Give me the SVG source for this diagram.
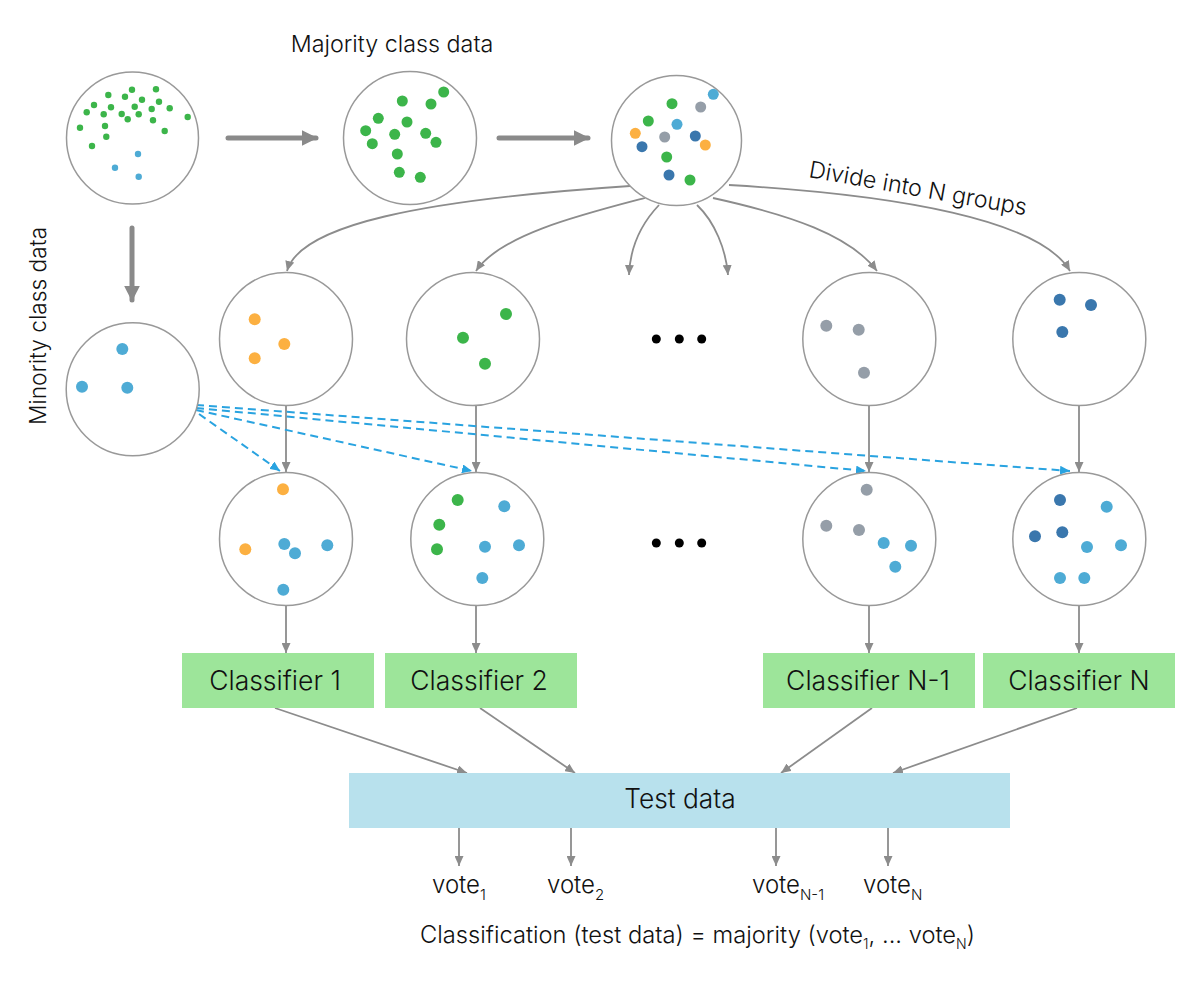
<svg xmlns="http://www.w3.org/2000/svg" width="1200" height="988" viewBox="0 0 1200 988">
<defs>
<style>
.c{fill:#fff;stroke:#999;stroke-width:1.5}
.g{fill:#3cb54a}.lb{fill:#4eabd5}.db{fill:#3a77ad}.gr{fill:#959ea8}.or{fill:#fcb041}
.t{font-family:Inter,"Liberation Sans",sans-serif;font-weight:300;fill:#111}
.ln{fill:none;stroke:#8c8c8c;stroke-width:1.8}
.thick{fill:none;stroke:#8a8a8a;stroke-width:5;stroke-linecap:round}
.dash{fill:none;stroke:#29a3e0;stroke-width:2;stroke-dasharray:8 5}
.cls{fill:#9de59a}
</style>
<marker id="ah" viewBox="0 0 10 9" refX="10" refY="4.5" markerWidth="10" markerHeight="9" markerUnits="userSpaceOnUse" orient="auto"><path d="M0,0 L10,4.5 L0,9 z" fill="#8c8c8c"/></marker>
<marker id="ahb" viewBox="0 0 10 9" refX="10" refY="4.5" markerWidth="10" markerHeight="9" markerUnits="userSpaceOnUse" orient="auto"><path d="M0,0 L10,4.5 L0,9 z" fill="#29a3e0"/></marker>
<marker id="aht" viewBox="0 0 10 10" refX="9" refY="5" markerWidth="3.2" markerHeight="3.2" orient="auto"><path d="M0,0 L10,5 L0,10 z" fill="#8a8a8a"/></marker>
</defs>
<rect width="1200" height="988" fill="#fff"/>

<text class="t" x="392" y="52" font-size="23.3" text-anchor="middle">Majority class data</text>
<text class="t" transform="translate(46,326) rotate(-90)" font-size="22.7" text-anchor="middle">Minority class data</text>
<text class="t" transform="translate(808,177) rotate(10)" font-size="23.3">Divide into N groups</text>

<g id="connectors">
<line class="thick" x1="228" y1="138" x2="316" y2="138" marker-end="url(#aht)"/>
<line class="thick" x1="499" y1="138" x2="588" y2="138" marker-end="url(#aht)"/>
<line class="thick" x1="132" y1="228" x2="132" y2="300" marker-end="url(#aht)"/>
<path class="ln" d="M630,186 C420,200 300,225 287,271" marker-end="url(#ah)"/>
<path class="ln" d="M645,198 C580,215 500,235 476,271" marker-end="url(#ah)"/>
<path class="ln" d="M659,205 C640,225 630,250 629,275" marker-end="url(#ah)"/>
<path class="ln" d="M697,205 C715,222 726,250 728,275" marker-end="url(#ah)"/>
<path class="ln" d="M713,198 C790,215 850,235 877,271" marker-end="url(#ah)"/>
<path class="ln" d="M729,185 C900,195 1040,220 1070,271" marker-end="url(#ah)"/>
<line class="ln" x1="286" y1="406" x2="286" y2="472" marker-end="url(#ah)"/>
<line class="ln" x1="476" y1="406" x2="476" y2="472" marker-end="url(#ah)"/>
<line class="ln" x1="869" y1="406" x2="869" y2="472" marker-end="url(#ah)"/>
<line class="ln" x1="1079" y1="406" x2="1079" y2="472" marker-end="url(#ah)"/>
<line class="ln" x1="286" y1="606" x2="286" y2="653" marker-end="url(#ah)"/>
<line class="ln" x1="476" y1="606" x2="476" y2="653" marker-end="url(#ah)"/>
<line class="ln" x1="869" y1="606" x2="869" y2="653" marker-end="url(#ah)"/>
<line class="ln" x1="1079" y1="606" x2="1079" y2="653" marker-end="url(#ah)"/>
<line class="dash" x1="199" y1="414" x2="280" y2="471" marker-end="url(#ahb)"/>
<line class="dash" x1="196" y1="410" x2="472" y2="471" marker-end="url(#ahb)"/>
<line class="dash" x1="196" y1="408" x2="866" y2="471" marker-end="url(#ahb)"/>
<line class="dash" x1="196" y1="405" x2="1070" y2="471" marker-end="url(#ahb)"/>
<line class="ln" x1="275" y1="708" x2="467" y2="773" marker-end="url(#ah)"/>
<line class="ln" x1="480" y1="708" x2="575" y2="773" marker-end="url(#ah)"/>
<line class="ln" x1="872" y1="708" x2="781" y2="773" marker-end="url(#ah)"/>
<line class="ln" x1="1077" y1="708" x2="893" y2="773" marker-end="url(#ah)"/>
<line class="ln" x1="459" y1="828" x2="459" y2="866" marker-end="url(#ah)"/>
<line class="ln" x1="571" y1="828" x2="571" y2="866" marker-end="url(#ah)"/>
<line class="ln" x1="776" y1="828" x2="776" y2="866" marker-end="url(#ah)"/>
<line class="ln" x1="888" y1="828" x2="888" y2="866" marker-end="url(#ah)"/>
</g>

<g id="all-data">
<circle class="c" cx="132.5" cy="138" r="66"/>
<g class="g">
<circle cx="108.3" cy="95" r="3.2"/><circle cx="125" cy="96.7" r="3.2"/><circle cx="132" cy="89.7" r="3.2"/><circle cx="156" cy="89.3" r="3.2"/>
<circle cx="94" cy="105" r="3.2"/><circle cx="111" cy="107.3" r="3.2"/><circle cx="134.7" cy="106.7" r="3.2"/><circle cx="142" cy="99.7" r="3.2"/>
<circle cx="159" cy="101.7" r="3.2"/><circle cx="151.7" cy="109" r="3.2"/><circle cx="169.7" cy="108.3" r="3.2"/><circle cx="86.7" cy="112.3" r="3.2"/>
<circle cx="103.7" cy="114.3" r="3.2"/><circle cx="121.7" cy="114" r="3.2"/><circle cx="138.7" cy="114.3" r="3.2"/><circle cx="127.7" cy="119.3" r="3.2"/>
<circle cx="153" cy="120.3" r="3.2"/><circle cx="187.7" cy="117" r="3.2"/><circle cx="80" cy="127.7" r="3.2"/><circle cx="105" cy="126" r="3.2"/>
<circle cx="164.7" cy="131" r="3.2"/><circle cx="106.3" cy="136.7" r="3.2"/><circle cx="92" cy="146" r="3.2"/>
</g>
<g class="lb"><circle cx="138" cy="154" r="3.2"/><circle cx="115" cy="167.7" r="3.2"/><circle cx="138.7" cy="176.7" r="3.2"/></g>
</g>

<g id="majority">
<circle class="c" cx="410" cy="138" r="66.5"/>
<g class="g">
<circle cx="443.7" cy="92" r="5.5"/><circle cx="402.3" cy="101" r="5.5"/><circle cx="431" cy="104" r="5.5"/><circle cx="378.3" cy="118.3" r="5.5"/>
<circle cx="407" cy="122" r="5.5"/><circle cx="365.7" cy="130.7" r="5.5"/><circle cx="394.7" cy="134.3" r="5.5"/><circle cx="425.7" cy="133.3" r="5.5"/>
<circle cx="372.3" cy="143.7" r="5.5"/><circle cx="436" cy="142.3" r="5.5"/><circle cx="397.3" cy="154" r="5.5"/><circle cx="399.3" cy="172.3" r="5.5"/>
<circle cx="420.3" cy="177.3" r="5.5"/>
</g>
</g>

<g id="shuffled">
<circle class="c" cx="676.5" cy="140.5" r="65"/>
<circle class="lb" cx="713.3" cy="94.3" r="5.5"/><circle class="g" cx="672" cy="103.7" r="5.5"/><circle class="gr" cx="700.7" cy="107" r="5.5"/>
<circle class="g" cx="648.3" cy="121" r="5.5"/><circle class="lb" cx="677" cy="124.3" r="5.5"/><circle class="or" cx="635.3" cy="133.3" r="5.5"/>
<circle class="gr" cx="664.7" cy="137" r="5.5"/><circle class="db" cx="695.3" cy="136" r="5.5"/><circle class="db" cx="642" cy="146.7" r="5.5"/>
<circle class="or" cx="705.3" cy="145" r="5.5"/><circle class="g" cx="666.7" cy="157" r="5.5"/><circle class="db" cx="669" cy="175" r="5.5"/>
<circle class="g" cx="690" cy="180" r="5.5"/>
</g>

<g id="minority">
<circle class="c" cx="132.7" cy="389.3" r="66.5"/>
<circle class="lb" cx="122.3" cy="349" r="6"/><circle class="lb" cx="82" cy="386.7" r="6"/><circle class="lb" cx="127.3" cy="387.7" r="6"/>
</g>

<g id="group1">
<circle class="c" cx="286" cy="339" r="66.5"/>
<circle class="or" cx="254.7" cy="319.3" r="6"/><circle class="or" cx="284.3" cy="344" r="6"/><circle class="or" cx="254.7" cy="358.3" r="6"/>
</g>
<g id="group2">
<circle class="c" cx="473" cy="339" r="66.5"/>
<circle class="g" cx="506" cy="314" r="6"/><circle class="g" cx="463" cy="337.7" r="6"/><circle class="g" cx="485" cy="363.7" r="6"/>
</g>
<g id="ellipsis1">
<circle cx="656.3" cy="339" r="4.5"/><circle cx="679.3" cy="339" r="4.5"/><circle cx="701.7" cy="339" r="4.5"/>
</g>
<g id="groupN1">
<circle class="c" cx="869.3" cy="339" r="66.5"/>
<circle class="gr" cx="826.3" cy="325.7" r="6"/><circle class="gr" cx="858.7" cy="329.7" r="6"/><circle class="gr" cx="864" cy="372.7" r="6"/>
</g>
<g id="groupN">
<circle class="c" cx="1079.3" cy="339" r="66.5"/>
<circle class="db" cx="1059.7" cy="299.7" r="6"/><circle class="db" cx="1091" cy="305" r="6"/><circle class="db" cx="1062.3" cy="332" r="6"/>
</g>

<g id="balanced1">
<circle class="c" cx="286" cy="539" r="66.5"/>
<circle class="or" cx="283" cy="489.3" r="6"/><circle class="or" cx="245.3" cy="549.3" r="6"/><circle class="lb" cx="284.3" cy="544" r="6"/>
<circle class="lb" cx="295" cy="553.3" r="6"/><circle class="lb" cx="327.3" cy="545.3" r="6"/><circle class="lb" cx="283.3" cy="589.7" r="6"/>
</g>
<g id="balanced2">
<circle class="c" cx="477.3" cy="539" r="66.5"/>
<circle class="g" cx="457.7" cy="500" r="6"/><circle class="lb" cx="504.3" cy="506.3" r="6"/><circle class="g" cx="439.3" cy="524.7" r="6"/>
<circle class="g" cx="437" cy="549.3" r="6"/><circle class="lb" cx="485" cy="546.7" r="6"/><circle class="lb" cx="519" cy="545.3" r="6"/><circle class="lb" cx="482.3" cy="578" r="6"/>
</g>
<g id="ellipsis2">
<circle cx="656.3" cy="543" r="4.5"/><circle cx="679.3" cy="543" r="4.5"/><circle cx="701.7" cy="543" r="4.5"/>
</g>
<g id="balancedN1">
<circle class="c" cx="869.3" cy="539" r="66.5"/>
<circle class="gr" cx="866.7" cy="489.7" r="6"/><circle class="gr" cx="826.3" cy="525.7" r="6"/><circle class="gr" cx="859" cy="530" r="6"/>
<circle class="lb" cx="883.7" cy="543" r="6"/><circle class="lb" cx="911" cy="545.7" r="6"/><circle class="lb" cx="895.3" cy="566.7" r="6"/>
</g>
<g id="balancedN">
<circle class="c" cx="1079.3" cy="539" r="66.5"/>
<circle class="db" cx="1060" cy="500" r="6"/><circle class="lb" cx="1106.7" cy="506.7" r="6"/><circle class="db" cx="1035" cy="536.3" r="6"/>
<circle class="db" cx="1062.3" cy="532.3" r="6"/><circle class="lb" cx="1087" cy="547" r="6"/><circle class="lb" cx="1121" cy="545.3" r="6"/>
<circle class="lb" cx="1060" cy="578" r="6"/><circle class="lb" cx="1084.3" cy="578" r="6"/>
</g>

<g id="classifier1"><rect class="cls" x="182" y="653" width="192" height="55"/><text class="t" x="275" y="690" font-size="26.5" text-anchor="middle">Classifier 1</text></g>
<g id="classifier2"><rect class="cls" x="385" y="653" width="192" height="55"/><text class="t" x="479" y="690" font-size="26.5" text-anchor="middle">Classifier 2</text></g>
<g id="classifierN1"><rect class="cls" x="763" y="653" width="212" height="55"/><text class="t" x="868" y="690" font-size="26.5" text-anchor="middle">Classifier N-1</text></g>
<g id="classifierN"><rect class="cls" x="983" y="653" width="192" height="55"/><text class="t" x="1079" y="690" font-size="26.5" text-anchor="middle">Classifier N</text></g>

<g id="testdata"><rect x="349" y="773" width="661" height="55" fill="#b8e1ed"/><text class="t" x="680" y="808" font-size="26.3" text-anchor="middle">Test data</text></g>

<g id="votes">
<text class="t" x="432" y="893" font-size="24">vote<tspan font-size="15" dy="7">1</tspan></text>
<text class="t" x="547" y="893" font-size="24">vote<tspan font-size="15" dy="7">2</tspan></text>
<text class="t" x="752" y="893" font-size="24">vote<tspan font-size="15" dy="7">N-1</tspan></text>
<text class="t" x="863" y="893" font-size="24">vote<tspan font-size="15" dy="7">N</tspan></text>
<text class="t" x="420" y="943" font-size="23.7">Classification (test data) = majority (vote<tspan font-size="14" dy="6">1</tspan><tspan dy="-6">, ... vote</tspan><tspan font-size="14" dy="6">N</tspan><tspan dy="-6">)</tspan></text>
</g>
</svg>
